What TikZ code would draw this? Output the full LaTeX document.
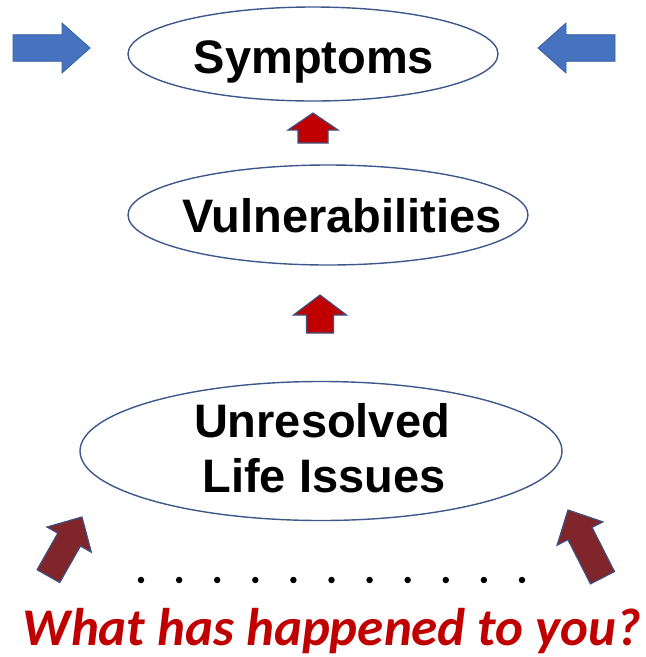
\documentclass[tikz,border=0pt]{standalone}
\usepackage{fontspec}
\setmainfont{Liberation Sans}
\newfontfamily\carl{Carlito}
\definecolor{ellline}{RGB}{62,88,140}
\definecolor{bluearr}{RGB}{70,114,190}
\definecolor{bluearrline}{RGB}{55,95,165}
\definecolor{redarr}{RGB}{192,0,0}
\definecolor{darkred}{RGB}{128,38,42}
\definecolor{arrline}{RGB}{62,80,130}
\definecolor{qred}{RGB}{192,0,0}
\newcommand\blkarrow[4]{(0,0) -- (#1,#2) -- (#3,#2) -- (#3,#4) -- (-#3,#4) -- (-#3,#2) -- (-#1,#2) -- cycle}
\tikzset{
  ell/.style={draw=ellline, line width=1.4pt, ellipse, inner sep=0pt},
  lbl/.style={font=\bfseries\fontsize{47}{56}\selectfont, anchor=base, inner sep=0pt},
  bluestyle/.style={fill=bluearr, draw=bluearrline, line width=0.8pt, line join=miter},
  redstyle/.style={fill=redarr, draw=arrline, line width=1.2pt, line join=miter},
  darkstyle/.style={fill=darkred, draw=arrline, line width=1.2pt, line join=miter},
  dotstyle/.style={fill=black, circle, inner sep=0pt, minimum size=6.5pt},
}
\usetikzlibrary{shapes.geometric}
\begin{document}
\begin{tikzpicture}[x=1pt,y=-1pt]
\useasboundingbox (0,0) rectangle (646,657);
% ellipses
\node[ell, minimum width=370pt, minimum height=94pt] (symp) at (313,54) {};
\node[ell, minimum width=400pt, minimum height=100pt] (vuln) at (328,215) {};
\node[ell, minimum width=482pt, minimum height=139pt] (unres) at (321,451) {};
% labels
\node[lbl] (tsymp) at (314,73) {Symptoms};
\node[lbl] (tvuln) at (342,232) {Vulnerabilities};
\node[lbl] (tunres) at (322,437) {Unresolved};
\node[lbl] (tlife) at (324,492) {Life Issues};
% arrow tips
\coordinate (tipBL) at (90,48);
\coordinate (tipBR) at (538,48);
\coordinate (tipR1) at (313,113);
\coordinate (tipR2) at (320,295);
\coordinate (tipDL) at (82,517);
\coordinate (tipDR) at (568,510);
% blue arrows
\filldraw[bluestyle, shift={(tipBL)}, rotate=-90] \blkarrow{25}{28}{13.3}{77};
\filldraw[bluestyle, shift={(tipBR)}, rotate=90] \blkarrow{25}{28}{13.3}{77};
% small red arrows
\filldraw[redstyle, shift={(tipR1)}] \blkarrow{25}{17}{15}{30};
\filldraw[redstyle, shift={(tipR2)}] \blkarrow{26.5}{20}{13.5}{38};
% dark red arrows
\filldraw[darkstyle, shift={(tipDL)}, rotate=-29.6] \blkarrow{25.5}{26}{13}{68};
\filldraw[darkstyle, shift={(tipDR)}, rotate=27] \blkarrow{25.7}{26.4}{13.5}{76};
% dots
\foreach \i in {0,...,10} {
  \node[dotstyle] (dot\i) at ({141+38.1*\i},580) {};
}
% question
\node[font=\carl\bfseries\itshape\fontsize{53}{60}\selectfont, text=qred, anchor=base, inner sep=0pt] (quest) at (332,645) {What has happened to you?};
\end{tikzpicture}
\end{document}
